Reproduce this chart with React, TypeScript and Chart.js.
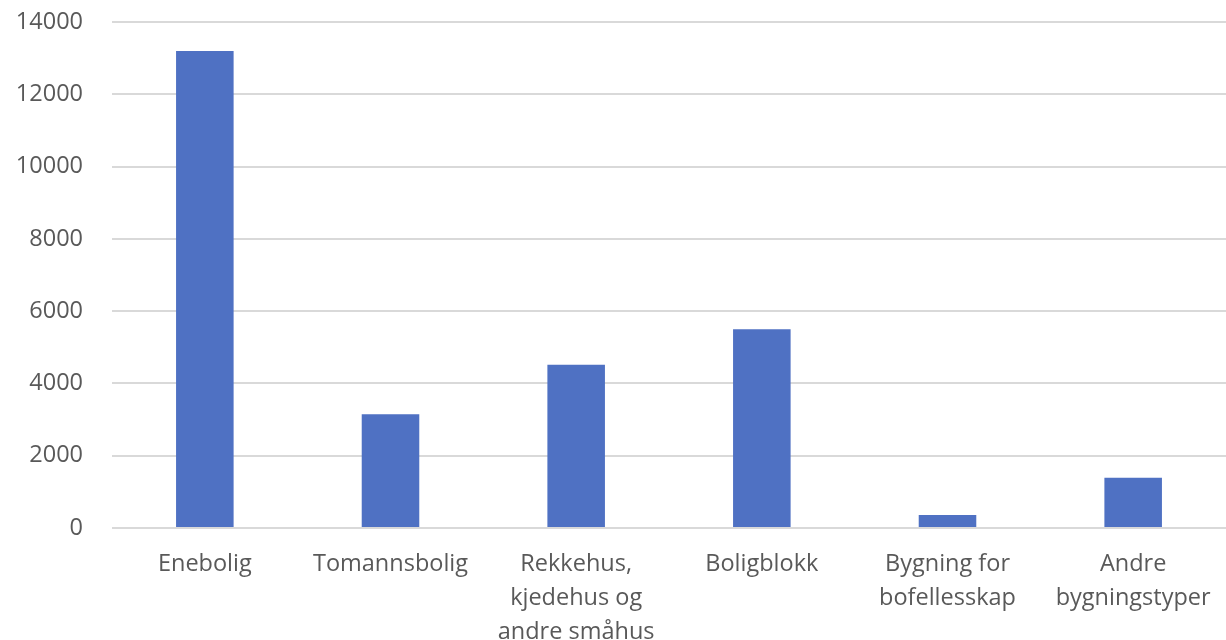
import React, { useEffect, useRef } from "react";
import { Chart, registerables } from "chart.js";

Chart.register(...registerables);

const categories: string[][] = [
  ["Enebolig"],
  ["Tomannsbolig"],
  ["Rekkehus,", "kjedehus og", "andre småhus"],
  ["Boligblokk"],
  ["Bygning for", "bofellesskap"],
  ["Andre", "bygningstyper"],
];
const values: number[] = [13200, 3150, 4520, 5500, 360, 1390];
const yTicks: number[] = [0, 2000, 4000, 6000, 8000, 10000, 12000, 14000];

export default function App() {
  const ref = useRef<HTMLCanvasElement | null>(null);
  useEffect(() => {
    document.body.style.margin = "0";
    const xFont = { family: "'Open Sans', sans-serif", size: 23.5, lineHeight: 1.45 };
    const yFont = { family: "'Open Sans', sans-serif", size: 23.5, lineHeight: 1.2 };
    const chart = new Chart(ref.current!, {
      type: "bar",
      data: {
        labels: categories,
        datasets: [
          {
            data: values,
            backgroundColor: "#4f71c3",
            categoryPercentage: 1,
            barPercentage: 0.31,
          },
        ],
      },
      options: {
        animation: false,
        responsive: false,
        layout: { padding: { top: 22, right: 0, left: 0, bottom: 0 } },
        plugins: { legend: { display: false }, tooltip: { enabled: false } },
        scales: {
          x: {
            grid: { display: false, drawTicks: false },
            border: { display: false },
            ticks: { color: "#595959", font: xFont, padding: 19, maxRotation: 0, autoSkip: false },
            afterFit: (axis: any) => {
              axis.height = 112;
              axis.paddingLeft = 0;
              axis.paddingRight = 0;
            },
          },
          y: {
            min: 0,
            max: 14000,
            afterBuildTicks: (axis: any) => {
              axis.ticks = yTicks.map((v) => ({ value: v }));
            },
            grid: { color: "#d9d9d9", lineWidth: 2, drawTicks: false },
            border: { display: false },
            ticks: {
              color: "#595959",
              font: yFont,
              padding: 29,
              callback: (v: any) => String(v),
            },
            afterFit: (axis: any) => {
              axis.width = 112;
              axis.paddingTop = 0;
              axis.paddingBottom = 0;
            },
          },
        },
      },
    });
    return () => chart.destroy();
  }, []);
  return <canvas ref={ref} width={1226} height={640} style={{ display: "block" }} />;
}
